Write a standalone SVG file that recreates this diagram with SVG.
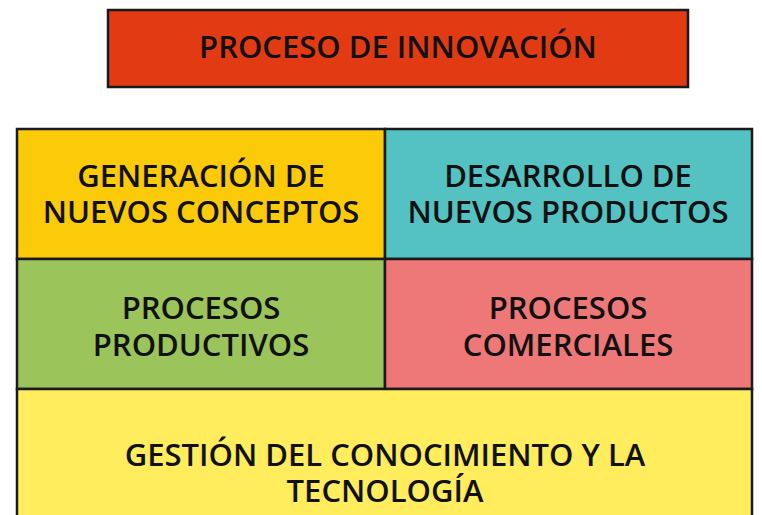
<svg xmlns="http://www.w3.org/2000/svg" width="762" height="515" viewBox="0 0 762 515">
<style>
.box{stroke:#1a1a1a;stroke-width:2.5}
.t{font-family:"Open Sans","Noto Sans",sans-serif;font-size:31px;font-weight:600;fill:#111;text-anchor:middle}
</style>
<rect width="762" height="515" fill="#fff"/>
<g id="title">
<rect class="box" x="108" y="10" width="580" height="77" fill="#E23B14"/>
<text class="t" x="398" y="58">PROCESO DE INNOVACIÓN</text>
</g>
<g id="generacion">
<rect class="box" x="17" y="129" width="368" height="130" fill="#FBCB0A"/>
<text class="t" x="201" y="187">GENERACIÓN DE</text>
<text class="t" x="201" y="223">NUEVOS CONCEPTOS</text>
</g>
<g id="desarrollo">
<rect class="box" x="385" y="129" width="367" height="130" fill="#54C1C2"/>
<text class="t" x="568" y="187">DESARROLLO DE</text>
<text class="t" x="568" y="223">NUEVOS PRODUCTOS</text>
</g>
<g id="productivos">
<rect class="box" x="17" y="259" width="368" height="130" fill="#9BC45A"/>
<text class="t" x="201" y="319">PROCESOS</text>
<text class="t" x="201" y="356">PRODUCTIVOS</text>
</g>
<g id="comerciales">
<rect class="box" x="385" y="259" width="367" height="130" fill="#EE7777"/>
<text class="t" x="568" y="319">PROCESOS</text>
<text class="t" x="568" y="356">COMERCIALES</text>
</g>
<g id="gestion">
<rect class="box" x="17" y="389" width="735" height="140" fill="#FFED5E"/>
<text class="t" x="385" y="466">GESTIÓN DEL CONOCIMIENTO Y LA</text>
<text class="t" x="385" y="502">TECNOLOGÍA</text>
</g>
<g id="connectors"/>
</svg>
